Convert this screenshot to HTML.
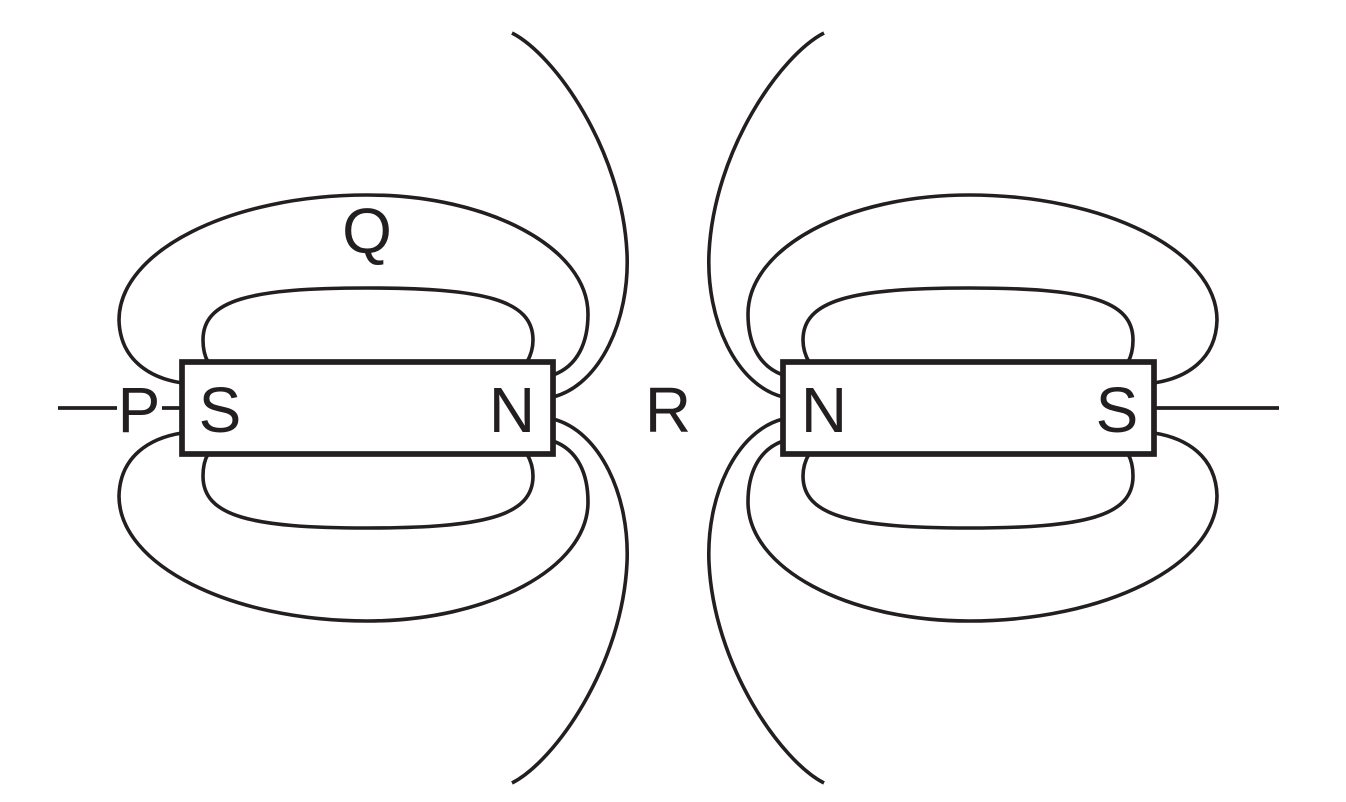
<!DOCTYPE html>
<html>
<head>
<meta charset="utf-8">
<style>
  html, body { margin: 0; padding: 0; background: #ffffff; }
  svg { display: block; }
  text { font-family: "Liberation Sans", Arial, sans-serif; font-size: 64px; fill: #231f20; }
</style>
</head>
<body>
<svg width="1346" height="802" viewBox="0 0 1346 802" xmlns="http://www.w3.org/2000/svg">
  <g fill="none" stroke="#231f20" stroke-width="3.6" stroke-linecap="butt">
    <!-- Left magnet, top half -->
    <g>
      <path d="M182,383 C150,378 120,360 119,320 C119,251 231,195 367,195 C489,195 588,248 588,314 C588,342 578,366 553,375"/>
      <path d="M208,362 C204,355 203,348 203,340 C203,300 250,288 367,288 C484,288 533,300 533,340 C533,348 531,355 527,362"/>
      <path d="M512,33 C555,55 622,150 627,253 C630,320 600,385 553,397"/>
    </g>
    <!-- Left magnet, bottom half (mirror about y=408) -->
    <g transform="translate(0,816) scale(1,-1)">
      <path d="M182,383 C150,378 120,360 119,320 C119,251 231,195 367,195 C489,195 588,248 588,314 C588,342 578,366 553,375"/>
      <path d="M208,362 C204,355 203,348 203,340 C203,300 250,288 367,288 C484,288 533,300 533,340 C533,348 531,355 527,362"/>
      <path d="M512,33 C555,55 622,150 627,253 C630,320 600,385 553,397"/>
    </g>
    <!-- Right magnet, top half (mirror about x=668) -->
    <g transform="translate(1336,0) scale(-1,1)">
      <path d="M182,383 C150,378 120,360 119,320 C119,251 231,195 367,195 C489,195 588,248 588,314 C588,342 578,366 553,375"/>
      <path d="M208,362 C204,355 203,348 203,340 C203,300 250,288 367,288 C484,288 533,300 533,340 C533,348 531,355 527,362"/>
      <path d="M512,33 C555,55 622,150 627,253 C630,320 600,385 553,397"/>
    </g>
    <!-- Right magnet, bottom half -->
    <g transform="translate(1336,816) scale(-1,-1)">
      <path d="M182,383 C150,378 120,360 119,320 C119,251 231,195 367,195 C489,195 588,248 588,314 C588,342 578,366 553,375"/>
      <path d="M208,362 C204,355 203,348 203,340 C203,300 250,288 367,288 C484,288 533,300 533,340 C533,348 531,355 527,362"/>
      <path d="M512,33 C555,55 622,150 627,253 C630,320 600,385 553,397"/>
    </g>
    <!-- Axis lines -->
    <path d="M58,408 H117" stroke-width="3.7"/>
    <path d="M162,408 H182" stroke-width="3.7"/>
    <path d="M1155,408 H1279" stroke-width="3.7"/>
  </g>

  <!-- Magnet bodies -->
  <rect x="182" y="362" width="371" height="92" fill="#ffffff" stroke="#231f20" stroke-width="5.7"/>
  <rect x="783" y="362" width="371" height="92" fill="#ffffff" stroke="#231f20" stroke-width="5.7"/>

  <!-- Labels -->
  <text x="139" y="432" text-anchor="middle">P</text>
  <text x="220" y="432" text-anchor="middle">S</text>
  <text x="512" y="432" text-anchor="middle">N</text>
  <text x="668" y="432" text-anchor="middle">R</text>
  <text x="824" y="432" text-anchor="middle">N</text>
  <text x="1117" y="432" text-anchor="middle">S</text>
  <text x="367" y="253" text-anchor="middle">Q</text>
</svg>
</body>
</html>
